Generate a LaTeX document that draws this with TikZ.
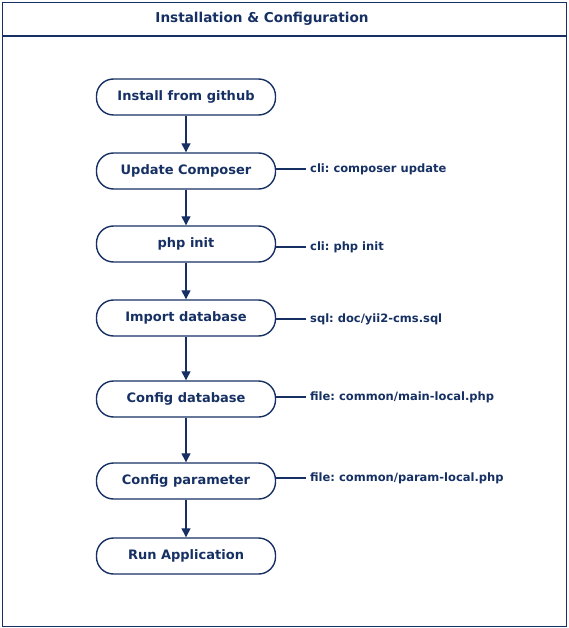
\documentclass[tikz,border=0pt]{standalone}
\usepackage{fontspec}
\setmainfont{DejaVu Sans}
\usetikzlibrary{arrows.meta}
\definecolor{navy}{RGB}{22,48,100}
\frenchspacing
\begin{document}
\begin{tikzpicture}[x=1pt,y=-1pt,
  stepbox/.style={draw=navy,line width=1.4pt,rounded corners=17pt,minimum width=179pt,minimum height=36pt,inner sep=0pt,font=\fontsize{13}{15}\selectfont\bfseries,text=navy},
  note/.style={anchor=west,inner sep=0pt,font=\fontsize{11.5}{13}\selectfont\bfseries,text=navy},
  flow/.style={draw=navy,line width=1.3pt,-{Triangle[length=9pt,width=9pt]}},
  link/.style={draw=navy,line width=1.2pt}]
\useasboundingbox (0,0) rectangle (568,628);
\node[draw=navy,line width=1.4pt,minimum width=564pt,minimum height=624pt,anchor=north west,inner sep=0pt] (frame) at (2,2) {};
\coordinate (tl) at (2,36);
\coordinate (tr) at (566,36);
\draw[link,line width=1.4pt] (tl) -- (tr);
\node[font=\fontsize{13.6}{16}\selectfont\bfseries,text=navy] (title) at (262,18.5) {Installation \& Configuration};
\node[stepbox] (s1) at (186,97) {Install from github};
\node[stepbox] (s2) at (186,171) {Update Composer};
\node[stepbox] (s3) at (186,244) {php init};
\node[stepbox] (s4) at (186,318) {Import database};
\node[stepbox] (s5) at (186,399) {Config database};
\node[stepbox] (s6) at (186,481) {Config parameter};
\node[stepbox] (s7) at (186,556) {Run Application};
\draw[flow] (s1) -- (s2);
\draw[flow] (s2) -- (s3);
\draw[flow] (s3) -- (s4);
\draw[flow] (s4) -- (s5);
\draw[flow] (s5) -- (s6);
\draw[flow] (s6) -- (s7);
\node[note] (n2) at (310,169) {cli: composer update};
\node[note] (n3) at (310,247) {cli: php init};
\node[note] (n4) at (310,319) {sql: doc/yii2-cms.sql};
\node[note] (n5) at (310,397) {file: common/main-local.php};
\node[note] (n6) at (310,478) {file: common/param-local.php};
\draw[link] (s2.east |- n2.west) -- ([xshift=-4pt]n2.west);
\draw[link] (s3.east |- n3.west) -- ([xshift=-4pt]n3.west);
\draw[link] (s4.east |- n4.west) -- ([xshift=-4pt]n4.west);
\draw[link] (s5.east |- n5.west) -- ([xshift=-4pt]n5.west);
\draw[link] (s6.east |- n6.west) -- ([xshift=-4pt]n6.west);
\end{tikzpicture}
\end{document}
